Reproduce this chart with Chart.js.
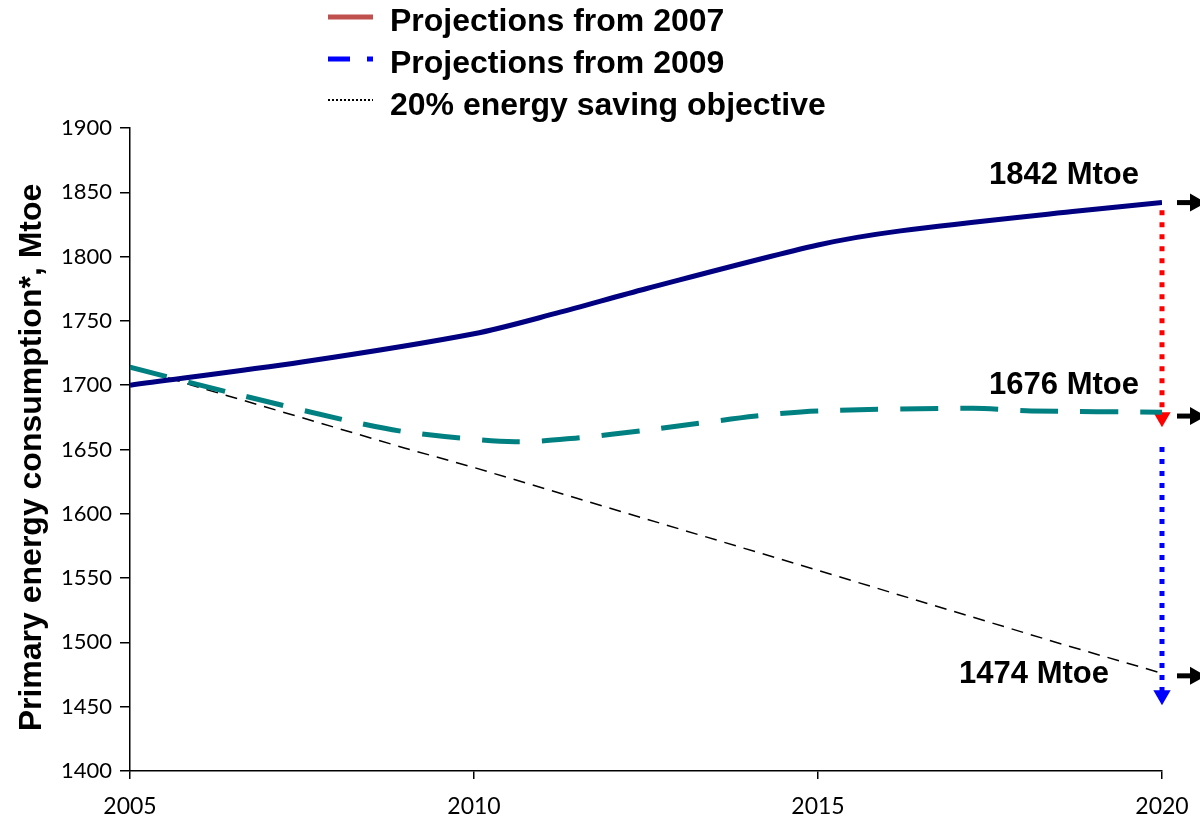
<!DOCTYPE html>
<html>
<head>
<meta charset="utf-8">
<script src="https://cdn.jsdelivr.net/npm/chart.js@4"></script>
<style>
html,body{margin:0;padding:0;background:#fff;}
#wrap{width:1200px;height:819px;position:relative;}
</style>
</head>
<body>
<div id="wrap"><canvas id="c" width="1200" height="819"></canvas></div>
<script>
// ---- data ----
const navyYears   = [2005, 2007.5, 2010, 2011.2, 2012.5, 2015, 2016.2, 2018.7, 2020];
const navyValues  = [1700, 1718, 1740, 1756, 1775, 1809, 1820, 1835, 1842];

const tealYears   = [2005, 2006.4, 2008.2, 2009.1, 2010.6, 2011.5, 2012.5, 2014.1, 2015, 2017.25, 2018.1, 2020];
const tealValues  = [1714, 1695, 1672, 1663, 1656, 1659, 1665, 1676, 1680, 1682, 1680, 1679];

const targetYears  = [2005, 2005.9, 2009, 2010, 2012.5, 2015, 2018.65, 2020];
const targetValues = [1715, 1700, 1651, 1636, 1596, 1556, 1497, 1476];

const arrowYear        = 2020;
const redArrowValues   = [1836, 1675];
const blueArrowValues  = [1652, 1459];

const annotValues = [1842, 1676, 1474];
const annotLabels = ['1842 Mtoe', '1676 Mtoe', '1474 Mtoe'];

const legendLabels = ['Projections from 2007', 'Projections from 2009', '20% energy saving objective'];
const yAxisTitle = 'Primary energy consumption*, Mtoe';

const yTicks = [1400, 1450, 1500, 1550, 1600, 1650, 1700, 1750, 1800, 1850, 1900];
const xTicks = [2005, 2010, 2015, 2020];

const toXY = (xs, ys) => xs.map((x, i) => ({x: x, y: ys[i]}));

// ---- plugins ----
const extrasPlugin = {
  id: 'extras',
  afterDatasetsDraw(chart) {
    const ctx = chart.ctx;
    const xs = chart.scales.x, ys = chart.scales.y;
    const xEnd = xs.getPixelForValue(arrowYear);
    ctx.save();
    ctx.fillStyle = '#000';
    ctx.font = 'bold 31px "Liberation Sans", Arial, sans-serif';
    ctx.textBaseline = 'middle';
    ctx.textAlign = 'right';
    const offs = [[-23, -27], [-23, -31], [-53, -1]];
    annotValues.forEach((v, i) => {
      ctx.fillText(annotLabels[i], xEnd + offs[i][0], ys.getPixelForValue(v) + offs[i][1]);
    });
    ctx.strokeStyle = '#000';
    ctx.fillStyle = '#000';
    ctx.lineWidth = 5;
    annotValues.forEach((v) => {
      const y = ys.getPixelForValue(v);
      ctx.beginPath();
      ctx.moveTo(xEnd + 15, y);
      ctx.lineTo(xEnd + 30, y);
      ctx.stroke();
      ctx.beginPath();
      ctx.moveTo(xEnd + 28, y - 9);
      ctx.lineTo(xEnd + 44, y);
      ctx.lineTo(xEnd + 28, y + 9);
      ctx.closePath();
      ctx.fill();
    });
    ctx.restore();
  },
  afterDraw(chart) {
    const ctx = chart.ctx;
    const xs = chart.scales.x;
    const area = chart.chartArea;
    ctx.save();
    // x tick labels
    ctx.fillStyle = '#000';
    ctx.font = '23px Lato, "Open Sans", sans-serif';
    ctx.textAlign = 'center';
    ctx.textBaseline = 'middle';
    xTicks.forEach(v => ctx.fillText(String(v), xs.getPixelForValue(v), area.bottom + 36));
    // y axis title
    ctx.save();
    ctx.translate(32, (area.top + area.bottom) / 2 + 8);
    ctx.rotate(-Math.PI / 2);
    ctx.font = 'bold 32px "Liberation Sans", Arial, sans-serif';
    ctx.textAlign = 'center';
    ctx.textBaseline = 'middle';
    ctx.fillText(yAxisTitle, 0, 0);
    ctx.restore();
    // legend
    const x0 = 328, x1 = 373, tx = 390;
    const rows = [22, 64, 106];
    ctx.lineWidth = 5;
    ctx.strokeStyle = '#C0504D';
    ctx.beginPath(); ctx.moveTo(x0, rows[0] - 5); ctx.lineTo(x1, rows[0] - 5); ctx.stroke();
    ctx.strokeStyle = '#0000FF';
    ctx.beginPath(); ctx.moveTo(x0, rows[1] - 5); ctx.lineTo(x0 + 22, rows[1] - 5); ctx.stroke();
    ctx.beginPath(); ctx.moveTo(x1 - 6, rows[1] - 5); ctx.lineTo(x1, rows[1] - 5); ctx.stroke();
    ctx.lineWidth = 2;
    ctx.strokeStyle = '#000';
    ctx.setLineDash([2, 2]);
    ctx.beginPath(); ctx.moveTo(x0, rows[2] - 6); ctx.lineTo(x1, rows[2] - 6); ctx.stroke();
    ctx.setLineDash([]);
    ctx.fillStyle = '#000';
    ctx.font = 'bold 32px "Liberation Sans", Arial, sans-serif';
    ctx.textAlign = 'left';
    ctx.textBaseline = 'middle';
    legendLabels.forEach((t, i) => ctx.fillText(t, tx, rows[i]));
    ctx.restore();
  }
};

new Chart(document.getElementById('c'), {
  type: 'line',
  data: {
    datasets: [
      {
        label: legendLabels[0],
        data: toXY(navyYears, navyValues),
        borderColor: '#000080',
        borderWidth: 5,
        pointRadius: 0,
        tension: 0.3,
        fill: false
      },
      {
        label: legendLabels[1],
        data: toXY(tealYears, tealValues),
        borderColor: '#008080',
        borderWidth: 5,
        borderDash: [38, 22],
        pointRadius: 0,
        tension: 0.3,
        fill: false
      },
      {
        label: legendLabels[2],
        data: toXY(targetYears, targetValues),
        borderColor: '#000000',
        borderWidth: 1.5,
        borderDash: [12, 8],
        pointRadius: 0,
        tension: 0,
        fill: false
      },
      {
        label: 'gap 2007',
        data: redArrowValues.map(v => ({x: arrowYear, y: v})),
        borderColor: '#FF0000',
        backgroundColor: '#FF0000',
        borderWidth: 5,
        borderDash: [5, 7],
        pointRadius: [0, 10],
        pointStyle: 'triangle',
        rotation: 180,
        pointBorderWidth: 0,
        clip: false
      },
      {
        label: 'gap 2009',
        data: blueArrowValues.map(v => ({x: arrowYear, y: v})),
        borderColor: '#0000FF',
        backgroundColor: '#0000FF',
        borderWidth: 5,
        borderDash: [5, 7],
        pointRadius: [0, 10],
        pointStyle: 'triangle',
        rotation: 180,
        pointBorderWidth: 0,
        clip: false
      }
    ]
  },
  options: {
    responsive: false,
    animation: false,
    events: [],
    layout: { padding: { left: 0, right: 38, top: 128, bottom: 0 } },
    plugins: {
      legend: { display: false },
      tooltip: { enabled: false }
    },
    scales: {
      x: {
        type: 'linear',
        min: 2005,
        max: 2020,
        afterBuildTicks: (s) => { s.ticks = xTicks.map(v => ({value: v})); },
        afterFit: (s) => { s.height = 48; },
        border: { display: true, color: '#000', width: 1.5 },
        grid: { drawOnChartArea: false, drawTicks: true, tickLength: 8, color: '#000', lineWidth: 1.5 },
        ticks: { display: false, autoSkip: false }
      },
      y: {
        type: 'linear',
        min: 1400,
        max: 1900,
        afterBuildTicks: (s) => { s.ticks = yTicks.map(v => ({value: v})); },
        afterFit: (s) => { s.width = 130; },
        border: { display: true, color: '#000', width: 1.5 },
        grid: { drawOnChartArea: false, drawTicks: true, tickLength: 10, color: '#000', lineWidth: 1.5 },
        ticks: {
          color: '#000',
          padding: 8,
          autoSkip: false,
          font: { family: 'Lato, "Open Sans", sans-serif', size: 22 },
          callback: (v) => String(v)
        }
      }
    }
  },
  plugins: [extrasPlugin]
});
</script>
</body>
</html>
